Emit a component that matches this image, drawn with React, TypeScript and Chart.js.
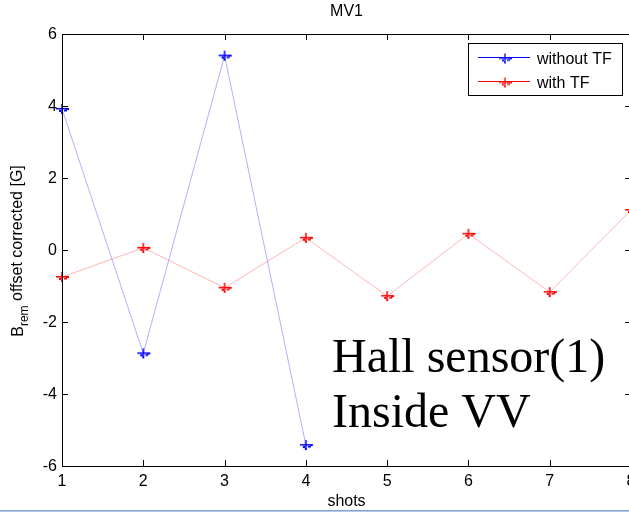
import React, { useEffect, useRef } from "react";
import { Chart, registerables } from "chart.js";

Chart.register(...registerables);

// Shot numbers and the remanent field readings (offset corrected, in G)
const shots = [1, 2, 3, 4, 5, 6, 7, 8];
const withoutTF = [3.92, -2.87, 5.4, -5.42];
const withTF = [-0.75, 0.06, -1.05, 0.34, -1.28, 0.45, -1.17, 1.11];

const xTicks = [1, 2, 3, 4, 5, 6, 7, 8];
const yTicks = [-6, -4, -2, 0, 2, 4, 6];

const titleText = "MV1";
const xTitle = "shots";
const legendLabels = ["without TF", "with TF"];
const noteLines = ["Hall sensor(1)", "Inside VV"];

const SANS = "'Liberation Sans', Arial, sans-serif";
const SERIF = "'Liberation Serif', 'Times New Roman', serif";

// '+' marker with the small blotches underneath, as an offscreen canvas
function makeMarker(color: string): HTMLCanvasElement {
  const c = document.createElement("canvas");
  c.width = 18;
  c.height = 18;
  const g = c.getContext("2d")!;
  g.fillStyle = color;
  const cx = 9;
  const cy = 9;
  g.fillRect(cx - 6, cy - 1, 12, 1.5); // horizontal arm
  g.fillRect(cx - 0.75, cy - 5, 1.5, 9); // vertical arm
  g.fillRect(cx + 4, cy - 1, 3, 2);
  g.fillRect(cx - 3, cy + 1, 2, 2);
  g.fillRect(cx + 2, cy + 1, 3, 1.5);
  g.fillRect(cx - 1, cy + 3, 2, 2);
  return c;
}

const framePlugin = {
  id: "matlabFrame",
  afterDraw(chart: any) {
    const ctx = chart.ctx as CanvasRenderingContext2D;
    const { left, right, top, bottom } = chart.chartArea;
    const xs = chart.scales.x;
    const ys = chart.scales.y;
    ctx.save();

    // axes box
    ctx.strokeStyle = "#000";
    ctx.lineWidth = 1;
    ctx.strokeRect(Math.round(left) + 0.5, Math.round(top) + 0.5, Math.round(right - left), Math.round(bottom - top));

    // inward ticks on all four sides
    const tl = 6;
    ctx.beginPath();
    for (const v of xTicks) {
      const px = Math.round(xs.getPixelForValue(v)) + 0.5;
      ctx.moveTo(px, bottom);
      ctx.lineTo(px, bottom - tl);
      ctx.moveTo(px, top);
      ctx.lineTo(px, top + tl);
    }
    for (const v of yTicks) {
      const py = Math.round(ys.getPixelForValue(v)) + 0.5;
      ctx.moveTo(left, py);
      ctx.lineTo(left + tl, py);
      ctx.moveTo(right, py);
      ctx.lineTo(right - tl, py);
    }
    ctx.stroke();

    // tick labels
    ctx.fillStyle = "#000";
    ctx.font = `16px ${SANS}`;
    ctx.textAlign = "right";
    ctx.textBaseline = "middle";
    for (const v of yTicks) {
      ctx.fillText(String(v), left - 5, ys.getPixelForValue(v) + 1);
    }
    ctx.textAlign = "center";
    ctx.textBaseline = "top";
    for (const v of xTicks) {
      ctx.fillText(String(v), xs.getPixelForValue(v), bottom + 8);
    }

    // title and x label
    const cxm = (left + right) / 2;
    ctx.textBaseline = "middle";
    ctx.fillText(titleText, cxm, 12);
    ctx.fillText(xTitle, cxm, 502);

    // y label with subscript, rotated
    ctx.save();
    ctx.translate(19, (top + bottom) / 2 + 1);
    ctx.rotate(-Math.PI / 2);
    ctx.textAlign = "left";
    ctx.textBaseline = "middle";
    const mainFont = `16px ${SANS}`;
    const subFont = `12px ${SANS}`;
    ctx.font = mainFont;
    const wB = ctx.measureText("B").width;
    const rest = " offset corrected [G]";
    const wRest = ctx.measureText(rest).width;
    ctx.font = subFont;
    const wSub = ctx.measureText("rem").width;
    let x0 = -(wB + wSub + wRest) / 2;
    ctx.font = mainFont;
    ctx.fillText("B", x0, 0);
    x0 += wB;
    ctx.font = subFont;
    ctx.fillText("rem", x0, 6);
    x0 += wSub;
    ctx.font = mainFont;
    ctx.fillText(rest, x0, -1);
    ctx.restore();

    // legend
    const lx = 468.5;
    const ly = 43.5;
    const lw = 154;
    const lh = 52;
    ctx.fillStyle = "#fff";
    ctx.fillRect(lx, ly, lw, lh);
    ctx.strokeStyle = "#000";
    ctx.strokeRect(lx, ly, lw, lh);
    const entries = [
      { label: legendLabels[0], color: "#0000ff", y: 57.5, marker: chart.data.datasets[0].pointStyle },
      { label: legendLabels[1], color: "#ff0000", y: 81.5, marker: chart.data.datasets[1].pointStyle },
    ];
    ctx.font = `16px ${SANS}`;
    ctx.textAlign = "left";
    ctx.textBaseline = "middle";
    for (const e of entries) {
      ctx.strokeStyle = e.color;
      ctx.beginPath();
      ctx.moveTo(478, e.y);
      ctx.lineTo(530, e.y);
      ctx.stroke();
      const m = e.marker as HTMLCanvasElement;
      ctx.globalAlpha = 0.85;
      ctx.drawImage(m, 505 - m.width / 2, e.y - m.height / 2 + 1);
      ctx.globalAlpha = 1;
      ctx.fillStyle = "#000";
      ctx.fillText(e.label, 537, e.y + 2.5);
    }

    // annotation
    ctx.font = `48px ${SERIF}`;
    ctx.textAlign = "left";
    ctx.textBaseline = "alphabetic";
    ctx.fillStyle = "#000";
    ctx.fillText(noteLines[0], 332, 372);
    ctx.fillText(noteLines[1], 332, 427);

    // window edge line along the bottom
    ctx.fillStyle = "rgb(130,165,210)";
    ctx.fillRect(0, 510, chart.width, 1);
    ctx.fillStyle = "rgb(180,200,230)";
    ctx.fillRect(0, 511, chart.width, 1);

    ctx.restore();
  },
};

const whiteBg = {
  id: "whiteBg",
  beforeDraw(chart: any) {
    const ctx = chart.ctx as CanvasRenderingContext2D;
    ctx.save();
    ctx.fillStyle = "#fff";
    ctx.fillRect(0, 0, chart.width, chart.height);
    ctx.restore();
  },
};

export default function App() {
  const ref = useRef<HTMLCanvasElement | null>(null);

  useEffect(() => {
    if (!ref.current) return;
    const blueMarker = makeMarker("#0000ff");
    const redMarker = makeMarker("#ff0000");
    const chart = new Chart(ref.current, {
      type: "line",
      data: {
        datasets: [
          {
            label: legendLabels[0],
            data: withoutTF.map((v, i) => ({ x: shots[i], y: v })),
            borderColor: "rgba(80,80,255,0.45)",
            borderWidth: 1,
            pointStyle: blueMarker as any,
            pointRadius: 6,
            tension: 0,
            clip: false as any,
          },
          {
            label: legendLabels[1],
            data: withTF.map((v, i) => ({ x: shots[i], y: v })),
            borderColor: "rgba(255,90,90,0.45)",
            borderWidth: 1,
            pointStyle: redMarker as any,
            pointRadius: 6,
            tension: 0,
            clip: false as any,
          },
        ],
      },
      options: {
        animation: false,
        responsive: false,
        layout: { autoPadding: false, padding: { left: 62, top: 34, right: 1, bottom: 46 } },
        plugins: {
          legend: { display: false },
          tooltip: { enabled: false },
          title: { display: false },
        },
        scales: {
          x: { type: "linear", min: 1, max: 8, display: false },
          y: { type: "linear", min: -6, max: 6, display: false },
        },
      },
      plugins: [whiteBg, framePlugin],
    });
    return () => chart.destroy();
  }, []);

  return (
    <div
      style={{
        position: "fixed",
        left: 0,
        top: 0,
        width: 629,
        height: 512,
        overflow: "hidden",
        background: "#fff",
      }}
    >
      <canvas ref={ref} width={632} height={512} style={{ display: "block" }} />
    </div>
  );
}
